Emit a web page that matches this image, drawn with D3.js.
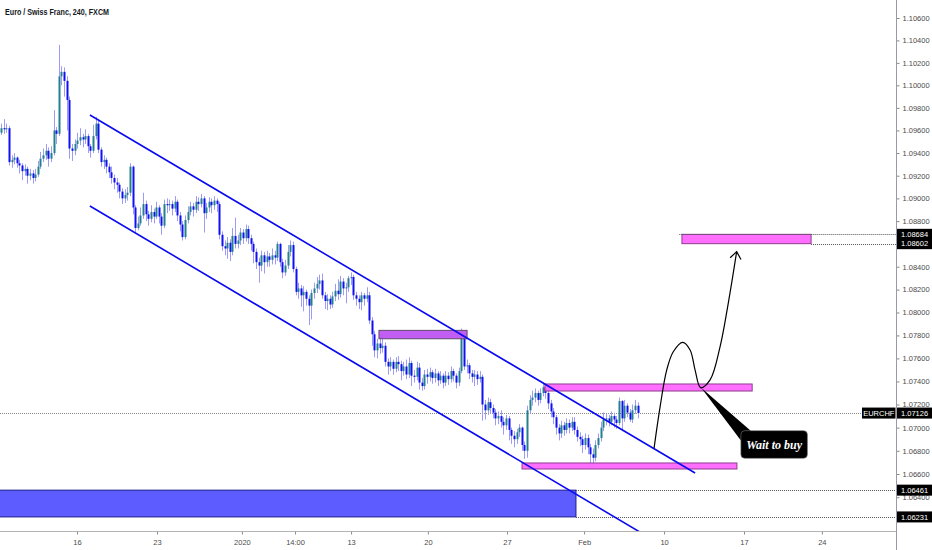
<!DOCTYPE html>
<html>
<head>
<meta charset="utf-8">
<script src="https://cdn.jsdelivr.net/npm/d3@7"></script>
<style>
  body { margin: 0; background: #fff; }
  svg { display: block; font-family: "Liberation Sans", Arial, sans-serif; }
</style>
</head>
<body>
<svg id="chart"></svg>
<script>
// EURCHF 240 bars (bar index = position in array)
const opens = [
  1.0958, 1.0962, 1.0961, 1.0962, 1.0932, 1.0934, 1.0936, 1.0931, 1.0929, 1.0924,
  1.0926, 1.0920, 1.0922, 1.0918, 1.0921, 1.0928, 1.0935, 1.0938, 1.0942, 1.0935,
  1.0940, 1.0960, 1.0957, 1.1008, 1.1012, 1.1004, 1.0987, 1.0944, 1.0942, 1.0948,
  1.0951, 1.0954, 1.0952, 1.0955, 1.0946, 1.0942, 1.0955, 1.0966, 1.0943, 1.0932,
  1.0934, 1.0928, 1.0923, 1.0918, 1.0914, 1.0912, 1.0906, 1.0900, 1.0903, 1.0905,
  1.0928, 1.0892, 1.0874, 1.0878, 1.0885, 1.0895, 1.0886, 1.0882, 1.0888, 1.0884,
  1.0892, 1.0884, 1.0876, 1.0895, 1.0894, 1.0895, 1.0891, 1.0897, 1.0885, 1.0877,
  1.0866, 1.0881, 1.0888, 1.0893, 1.0890, 1.0897, 1.0895, 1.0900, 1.0887, 1.0892,
  1.0897, 1.0894, 1.0898, 1.0895, 1.0868, 1.0858, 1.0856, 1.0861, 1.0853, 1.0867,
  1.0860, 1.0863, 1.0870, 1.0865, 1.0873, 1.0865, 1.0860, 1.0853, 1.0844, 1.0841,
  1.0850, 1.0844, 1.0849, 1.0846, 1.0850, 1.0848, 1.0860, 1.0844, 1.0835, 1.0841,
  1.0853, 1.0859, 1.0838, 1.0818, 1.0821, 1.0815, 1.0818, 1.0812, 1.0806, 1.0817,
  1.0821, 1.0825, 1.0828, 1.0815, 1.0810, 1.0812, 1.0807, 1.0814, 1.0819, 1.0816,
  1.0827, 1.0821, 1.0822, 1.0830, 1.0831, 1.0815, 1.0812, 1.0809, 1.0815, 1.0812,
  1.0815, 1.0793, 1.0781, 1.0767, 1.0773, 1.0769, 1.0771, 1.0757, 1.0753, 1.0757,
  1.0751, 1.0757, 1.0755, 1.0749, 1.0753, 1.0746, 1.0756, 1.0745, 1.0744, 1.0752,
  1.0739, 1.0736, 1.0746, 1.0744, 1.0748, 1.0743, 1.0747, 1.0741, 1.0745, 1.0739,
  1.0745, 1.0742, 1.0749, 1.0745, 1.0739, 1.0749, 1.0777, 1.0753, 1.0754, 1.0747,
  1.0744, 1.0746, 1.0742, 1.0744, 1.0720, 1.0715, 1.0722, 1.0717, 1.0713, 1.0708,
  1.0710, 1.0705, 1.0702, 1.0708, 1.0698, 1.0693, 1.0690, 1.0696, 1.0700, 1.0685,
  1.0680, 1.0715, 1.0724, 1.0726, 1.0730, 1.0724, 1.0730, 1.0735, 1.0730, 1.0721,
  1.0714, 1.0709, 1.0700, 1.0695, 1.0702, 1.0698, 1.0704, 1.0700, 1.0705, 1.0698,
  1.0692, 1.0690, 1.0685, 1.0691, 1.0683, 1.0677, 1.0674, 1.0685, 1.0691, 1.0700,
  1.0707, 1.0708, 1.0705, 1.0710, 1.0707, 1.0704, 1.0723, 1.0708, 1.0719, 1.0713,
  1.0707, 1.0715, 1.0719
]

const highs = [
  1.0966, 1.0970, 1.0966, 1.0964, 1.0938, 1.0940, 1.0937, 1.0934, 1.0931, 1.0930,
  1.0928, 1.0926, 1.0925, 1.0926, 1.0933, 1.0941, 1.0944, 1.0948, 1.0945, 1.0946,
  1.0978, 1.0963, 1.1036, 1.1017, 1.1016, 1.1008, 1.0990, 1.0948, 1.0952, 1.0958,
  1.0962, 1.0957, 1.0961, 1.0957, 1.0948, 1.0965, 1.0972, 1.0970, 1.0945, 1.0938,
  1.0936, 1.0931, 1.0928, 1.0921, 1.0918, 1.0914, 1.0909, 1.0908, 1.0910, 1.0931,
  1.0929, 1.0894, 1.0884, 1.0892, 1.0905, 1.0898, 1.0889, 1.0894, 1.0891, 1.0897,
  1.0894, 1.0887, 1.0899, 1.0900, 1.0899, 1.0898, 1.0902, 1.0899, 1.0888, 1.0880,
  1.0885, 1.0893, 1.0897, 1.0896, 1.0902, 1.0901, 1.0904, 1.0902, 1.0896, 1.0901,
  1.0900, 1.0902, 1.0900, 1.0897, 1.0871, 1.0863, 1.0866, 1.0864, 1.0874, 1.0883,
  1.0868, 1.0874, 1.0873, 1.0877, 1.0876, 1.0868, 1.0862, 1.0856, 1.0848, 1.0854,
  1.0853, 1.0854, 1.0852, 1.0856, 1.0854, 1.0862, 1.0861, 1.0847, 1.0846, 1.0859,
  1.0863, 1.0862, 1.0840, 1.0826, 1.0824, 1.0823, 1.0820, 1.0815, 1.0820, 1.0826,
  1.0831, 1.0833, 1.0834, 1.0818, 1.0816, 1.0815, 1.0818, 1.0825, 1.0829, 1.0832,
  1.0830, 1.0826, 1.0832, 1.0835, 1.0833, 1.0818, 1.0815, 1.0818, 1.0817, 1.0822,
  1.0818, 1.0796, 1.0784, 1.0777, 1.0779, 1.0781, 1.0774, 1.0760, 1.0761, 1.0759,
  1.0761, 1.0762, 1.0758, 1.0757, 1.0759, 1.0761, 1.0758, 1.0750, 1.0757, 1.0756,
  1.0743, 1.0750, 1.0751, 1.0752, 1.0750, 1.0751, 1.0749, 1.0749, 1.0747, 1.0749,
  1.0748, 1.0753, 1.0751, 1.0747, 1.0752, 1.0786, 1.0780, 1.0759, 1.0756, 1.0750,
  1.0750, 1.0749, 1.0749, 1.0746, 1.0724, 1.0726, 1.0725, 1.0720, 1.0716, 1.0714,
  1.0715, 1.0709, 1.0711, 1.0710, 1.0700, 1.0697, 1.0699, 1.0703, 1.0701, 1.0688,
  1.0719, 1.0728, 1.0732, 1.0734, 1.0732, 1.0734, 1.0739, 1.0738, 1.0733, 1.0724,
  1.0717, 1.0711, 1.0703, 1.0706, 1.0705, 1.0708, 1.0707, 1.0709, 1.0709, 1.0701,
  1.0696, 1.0693, 1.0695, 1.0694, 1.0686, 1.0682, 1.0689, 1.0695, 1.0705, 1.0713,
  1.0712, 1.0711, 1.0714, 1.0713, 1.0710, 1.0726, 1.0724, 1.0724, 1.0721, 1.0716,
  1.0720, 1.0724, 1.0722
]

const lows = [
  1.0956, 1.0957, 1.0958, 1.0929, 1.0927, 1.0930, 1.0927, 1.0922, 1.0916, 1.0920,
  1.0913, 1.0916, 1.0913, 1.0915, 1.0919, 1.0926, 1.0932, 1.0934, 1.0928, 1.0932,
  1.0938, 1.0948, 1.0955, 1.1000, 1.0990, 1.0960, 1.0935, 1.0933, 1.0938, 1.0944,
  1.0947, 1.0945, 1.0948, 1.0940, 1.0936, 1.0940, 1.0952, 1.0940, 1.0928, 1.0926,
  1.0922, 1.0918, 1.0913, 1.0908, 1.0905, 1.0900, 1.0895, 1.0896, 1.0898, 1.0902,
  1.0886, 1.0870, 1.0872, 1.0876, 1.0882, 1.0880, 1.0876, 1.0879, 1.0878, 1.0882,
  1.0878, 1.0868, 1.0874, 1.0887, 1.0889, 1.0885, 1.0888, 1.0880, 1.0871, 1.0863,
  1.0864, 1.0878, 1.0885, 1.0884, 1.0887, 1.0889, 1.0892, 1.0870, 1.0882, 1.0888,
  1.0887, 1.0890, 1.0888, 1.0864, 1.0854, 1.0850, 1.0847, 1.0845, 1.0850, 1.0856,
  1.0856, 1.0859, 1.0860, 1.0862, 1.0860, 1.0854, 1.0843, 1.0838, 1.0826, 1.0836,
  1.0834, 1.0840, 1.0840, 1.0842, 1.0842, 1.0845, 1.0840, 1.0830, 1.0832, 1.0838,
  1.0849, 1.0835, 1.0815, 1.0812, 1.0805, 1.0801, 1.0806, 1.0789, 1.0794, 1.0812,
  1.0817, 1.0820, 1.0812, 1.0803, 1.0802, 1.0803, 1.0804, 1.0810, 1.0811, 1.0813,
  1.0815, 1.0808, 1.0818, 1.0824, 1.0811, 1.0806, 1.0803, 1.0802, 1.0806, 1.0809,
  1.0790, 1.0771, 1.0761, 1.0760, 1.0764, 1.0765, 1.0753, 1.0746, 1.0749, 1.0746,
  1.0748, 1.0749, 1.0741, 1.0745, 1.0742, 1.0743, 1.0736, 1.0739, 1.0741, 1.0733,
  1.0732, 1.0733, 1.0738, 1.0740, 1.0738, 1.0739, 1.0736, 1.0738, 1.0734, 1.0736,
  1.0737, 1.0739, 1.0740, 1.0734, 1.0736, 1.0747, 1.0750, 1.0747, 1.0742, 1.0739,
  1.0736, 1.0737, 1.0739, 1.0706, 1.0707, 1.0711, 1.0712, 1.0708, 1.0702, 1.0703,
  1.0700, 1.0694, 1.0698, 1.0689, 1.0686, 1.0683, 1.0686, 1.0692, 1.0680, 1.0673,
  1.0674, 1.0712, 1.0719, 1.0722, 1.0719, 1.0721, 1.0727, 1.0725, 1.0716, 1.0709,
  1.0703, 1.0694, 1.0689, 1.0691, 1.0693, 1.0695, 1.0695, 1.0697, 1.0694, 1.0688,
  1.0684, 1.0678, 1.0681, 1.0677, 1.0666, 1.0666, 1.0671, 1.0682, 1.0688, 1.0697,
  1.0702, 1.0701, 1.0702, 1.0700, 1.0699, 1.0702, 1.0697, 1.0705, 1.0709, 1.0705,
  1.0704, 1.0712, 1.0708
]

const closes = [
  1.0962, 1.0961, 1.0962, 1.0932, 1.0934, 1.0936, 1.0931, 1.0929, 1.0924, 1.0926,
  1.0920, 1.0922, 1.0918, 1.0921, 1.0928, 1.0935, 1.0938, 1.0942, 1.0935, 1.0940,
  1.0960, 1.0957, 1.1008, 1.1012, 1.1004, 1.0987, 1.0944, 1.0942, 1.0948, 1.0951,
  1.0954, 1.0952, 1.0955, 1.0946, 1.0942, 1.0955, 1.0966, 1.0943, 1.0932, 1.0934,
  1.0928, 1.0923, 1.0918, 1.0914, 1.0912, 1.0906, 1.0900, 1.0903, 1.0905, 1.0928,
  1.0892, 1.0874, 1.0878, 1.0885, 1.0895, 1.0886, 1.0882, 1.0888, 1.0884, 1.0892,
  1.0884, 1.0876, 1.0895, 1.0894, 1.0895, 1.0891, 1.0897, 1.0885, 1.0877, 1.0866,
  1.0881, 1.0888, 1.0893, 1.0890, 1.0897, 1.0895, 1.0900, 1.0887, 1.0892, 1.0897,
  1.0894, 1.0898, 1.0895, 1.0868, 1.0858, 1.0856, 1.0861, 1.0853, 1.0867, 1.0860,
  1.0863, 1.0870, 1.0865, 1.0873, 1.0865, 1.0860, 1.0853, 1.0844, 1.0841, 1.0850,
  1.0844, 1.0849, 1.0846, 1.0850, 1.0848, 1.0860, 1.0844, 1.0835, 1.0841, 1.0853,
  1.0859, 1.0838, 1.0818, 1.0821, 1.0815, 1.0818, 1.0812, 1.0806, 1.0817, 1.0821,
  1.0825, 1.0828, 1.0815, 1.0810, 1.0812, 1.0807, 1.0814, 1.0819, 1.0816, 1.0827,
  1.0821, 1.0822, 1.0830, 1.0831, 1.0815, 1.0812, 1.0809, 1.0815, 1.0812, 1.0815,
  1.0793, 1.0781, 1.0767, 1.0773, 1.0769, 1.0771, 1.0757, 1.0753, 1.0757, 1.0751,
  1.0757, 1.0755, 1.0749, 1.0753, 1.0746, 1.0756, 1.0745, 1.0744, 1.0752, 1.0739,
  1.0736, 1.0746, 1.0744, 1.0748, 1.0743, 1.0747, 1.0741, 1.0745, 1.0739, 1.0745,
  1.0742, 1.0749, 1.0745, 1.0739, 1.0749, 1.0777, 1.0753, 1.0754, 1.0747, 1.0744,
  1.0746, 1.0742, 1.0744, 1.0720, 1.0715, 1.0722, 1.0717, 1.0713, 1.0708, 1.0710,
  1.0705, 1.0702, 1.0708, 1.0698, 1.0693, 1.0690, 1.0696, 1.0700, 1.0685, 1.0680,
  1.0715, 1.0724, 1.0726, 1.0730, 1.0724, 1.0730, 1.0735, 1.0730, 1.0721, 1.0714,
  1.0709, 1.0700, 1.0695, 1.0702, 1.0698, 1.0704, 1.0700, 1.0705, 1.0698, 1.0692,
  1.0690, 1.0685, 1.0691, 1.0683, 1.0677, 1.0674, 1.0685, 1.0691, 1.0700, 1.0707,
  1.0708, 1.0705, 1.0710, 1.0707, 1.0704, 1.0723, 1.0708, 1.0719, 1.0713, 1.0707,
  1.0715, 1.0719, 1.07126
]

// time axis (bar index -> label)
const xTickBars = [28.9, 59.3, 91.6, 111.8, 133.1, 162.3, 192.4, 221.7, 252.1, 282.5, 312.1]
const xTickLabels = ["16", "23", "2020", "14:00", "13", "20", "27", "Feb", "10", "17", "24"]

// price axis
const yTicks = d3.range(532, 554).map(k => k / 500)
const priceTags = [1.08684, 1.08602, 1.07126, 1.06461, 1.06231]
const lastPrice = 1.07126
const symbol = "EURCHF"

// drawings: [bar, price]
const channelUpper = [[33.8, 1.09737], [263.9, 1.06609]]
const channelLower = [[33.8, 1.08933], [246.0, 1.06060]]
// zones: [bar0, bar1, priceTop, priceBottom]
const blueZone = [-1, 218.6, 1.06461, 1.06231]
const purpleZone = [143.7, 177.2, 1.07844, 1.07771]
const pinkZones = [
  [206.8, 285.6, 1.07378, 1.07317],
  [198.1, 279.8, 1.06695, 1.06643],
  [258.9, 308.0, 1.08684, 1.08602]
]
const pathPoints = [
  [248.3, 1.06822], [250.6, 1.07181], [253.1, 1.07499], [255.6, 1.07658],
  [259.2, 1.07740], [262.0, 1.07673], [263.9, 1.07499], [266.0, 1.07346],
  [269.6, 1.07413], [273.4, 1.07702], [276.5, 1.08080], [279.7, 1.08532]
]
const callout = { text: "Wait to buy", anchor: [266.2, 1.07346], bars: [281.3, 306.6], prices: [1.06974, 1.06735] }

const width = 932, height = 550
const plotW = 896, plotH = 531

const svg = d3.select('#chart')
  .attr('width', width)
  .attr('height', height)

const x = d3.scaleLinear().domain([0, 242]).range([1, 637.5])
const y = d3.scaleLog().domain([1.066, 1.106]).range([474, 18])

svg.append('clipPath').attr('id', 'plot')
  .append('rect').attr('width', plotW).attr('height', plotH)

const defs = svg.append('defs')
defs.append('marker')
    .attr('id', 'arrow')
    .attr('viewBox', '-9 -7 11 14')
    .attr('markerUnits', 'userSpaceOnUse')
    .attr('markerWidth', 11)
    .attr('markerHeight', 14)
    .attr('refX', 0)
    .attr('refY', 0)
    .attr('orient', 'auto')
  .append('path')
    .attr('d', 'M-7,-5.5L0,0L-7,5.5')
    .attr('fill', 'none')
    .attr('stroke', '#000')
    .attr('stroke-width', 1.2)

const plot = svg.append('g').attr('clip-path', 'url(#plot)')

// last price line
plot.append('line')
  .attr('x1', 0).attr('x2', plotW)
  .attr('y1', Math.round(y(lastPrice)) + 0.5).attr('y2', Math.round(y(lastPrice)) + 0.5)
  .attr('stroke', '#8a8a8a')
  .attr('stroke-dasharray', '1,1')

// candles
const candles = closes.map((c, i) => ({ i, o: opens[i], h: highs[i], l: lows[i], c }))

const bars = plot.append('g').selectAll('g')
  .data(candles)
  .join('g')

bars.append('line')
  .attr('x1', d => Math.round(x(d.i)) + 0.5)
  .attr('x2', d => Math.round(x(d.i)) + 0.5)
  .attr('y1', d => y(d.h))
  .attr('y2', d => y(d.l))
  .attr('stroke', '#9c9cf6')
  .attr('stroke-width', 1)

bars.append('rect')
  .attr('x', d => Math.round(x(d.i)) - 0.5)
  .attr('width', 2)
  .attr('y', d => y(Math.max(d.o, d.c)))
  .attr('height', d => Math.max(1, Math.abs(y(d.o) - y(d.c))))
  .attr('fill', d => d.c >= d.o ? '#25808e' : '#1010f4')

// zones
const zone = (z, fill, stroke, op) => plot.append('rect')
  .attr('x', x(z[0]))
  .attr('width', x(z[1]) - x(z[0]))
  .attr('y', y(z[2]))
  .attr('height', y(z[3]) - y(z[2]))
  .attr('fill', fill)
  .attr('fill-opacity', op)
  .attr('stroke', stroke)
  .attr('stroke-width', 1)

zone(blueZone, '#5c5cff', '#1d1d8a', 1)
zone(purpleZone, '#bf55f2', '#5e4a6a', 0.95)
pinkZones.forEach(z => zone(z, '#ff66ff', '#8e3d8e', 0.95))

// dotted price lines running out of the zones
const dotted = [
  [blueZone[1], blueZone[2]], [blueZone[1], blueZone[3]],
  [pinkZones[2][0] - 1, pinkZones[2][2]], [pinkZones[2][1], pinkZones[2][3]]
]
plot.append('g').selectAll('line')
  .data(dotted)
  .join('line')
    .attr('x1', d => x(d[0]))
    .attr('x2', plotW)
    .attr('y1', d => Math.round(y(d[1])) + 0.5)
    .attr('y2', d => Math.round(y(d[1])) + 0.5)
    .attr('stroke', '#555')
    .attr('stroke-dasharray', '1,1')

// channel
const line = d3.line().x(d => x(d[0])).y(d => y(d[1]))
;[channelUpper, channelLower].forEach(c => {
  plot.append('path')
    .attr('d', line(c))
    .attr('fill', 'none')
    .attr('stroke', '#0a0af0')
    .attr('stroke-width', 1.6)
})

// projected path
plot.append('path')
  .attr('d', line.curve(d3.curveCatmullRom.alpha(0.5))(pathPoints))
  .attr('fill', 'none')
  .attr('stroke', '#000')
  .attr('stroke-width', 1.2)
  .attr('marker-end', 'url(#arrow)')

// callout
const bx0 = x(callout.bars[0]), bx1 = x(callout.bars[1])
const by0 = y(callout.prices[0]), by1 = y(callout.prices[1])
const ax = x(callout.anchor[0]), ay = y(callout.anchor[1])

plot.append('polygon')
  .attr('points', [[ax, ay], [bx0 + 11, by0 + 1], [bx0 + 1, by0 + 11]].join(' '))
  .attr('fill', '#000')

plot.append('rect')
  .attr('x', bx0).attr('y', by0)
  .attr('width', bx1 - bx0).attr('height', by1 - by0)
  .attr('rx', 4)
  .attr('fill', '#000')
  .attr('stroke', '#777')
  .attr('stroke-width', 0.6)

plot.append('text')
  .attr('x', (bx0 + bx1) / 2)
  .attr('y', (by0 + by1) / 2)
  .attr('dy', '0.35em')
  .attr('text-anchor', 'middle')
  .attr('fill', '#fff')
  .style('font-family', '"Liberation Serif", "Times New Roman", serif')
  .style('font-style', 'italic')
  .style('font-weight', 'bold')
  .style('font-size', '12px')
  .text(callout.text)

// axes
const yAxis = d3.axisRight(y)
  .tickValues(yTicks)
  .tickFormat(d3.format('.5f'))
  .tickSize(3)
  .tickPadding(3)

const gy = svg.append('g')
  .attr('transform', `translate(${plotW + 0.5}, 0)`)
  .call(yAxis)
gy.select('.domain').remove()
gy.selectAll('line').attr('stroke', '#888')
gy.selectAll('text').attr('fill', '#4a4a4a').style('font-size', '7.5px').style('font-family', '"Liberation Sans", Arial, sans-serif')

const xAxis = d3.axisBottom(x)
  .tickValues(xTickBars)
  .tickFormat((d, i) => xTickLabels[i])
  .tickSize(3)
  .tickPadding(5)

const gx = svg.append('g')
  .attr('transform', `translate(0, ${plotH + 0.5})`)
  .call(xAxis)
gx.select('.domain').remove()
gx.selectAll('line').attr('stroke', '#888')
gx.selectAll('text').attr('fill', '#4a4a4a').style('font-size', '7.5px').style('font-family', '"Liberation Sans", Arial, sans-serif')

svg.append('line')
  .attr('x1', 0).attr('x2', plotW)
  .attr('y1', plotH + 0.5).attr('y2', plotH + 0.5)
  .attr('stroke', '#b4b4b4').attr('stroke-width', 1.2)

svg.append('line')
  .attr('x1', plotW + 0.5).attr('x2', plotW + 0.5)
  .attr('y1', 0).attr('y2', height)
  .attr('stroke', '#9a9aa6')

// price tags on the axis
const tags = svg.append('g').selectAll('g')
  .data(priceTags)
  .join('g')
    .attr('transform', d => `translate(${plotW + 1}, ${y(d)})`)

tags.append('rect')
  .attr('x', 0).attr('y', -5.5)
  .attr('width', 35).attr('height', 11)
  .attr('fill', '#000')

tags.append('text')
  .attr('x', 4)
  .attr('dy', '0.35em')
  .attr('fill', '#fff')
  .style('font-size', '7.5px')
  .text(d => d3.format('.5f')(d))

const sym = svg.append('g')
  .attr('transform', `translate(${plotW - 34}, ${y(lastPrice)})`)
sym.append('rect')
  .attr('x', 0).attr('y', -5.5)
  .attr('width', 33.5).attr('height', 11)
  .attr('fill', '#000')
sym.append('text')
  .attr('x', 16.75)
  .attr('dy', '0.35em')
  .attr('text-anchor', 'middle')
  .attr('fill', '#fff')
  .style('font-size', '7.5px')
  .text(symbol)

// title
svg.append('text')
  .attr('x', 5)
  .attr('y', 15)
  .attr('fill', '#131722')
  .attr('textLength', 104)
  .attr('lengthAdjust', 'spacingAndGlyphs')
  .style('font-size', '9.5px')
  .style('font-weight', 'bold')
  .text('Euro / Swiss Franc, 240, FXCM')
</script>
</body>
</html>
